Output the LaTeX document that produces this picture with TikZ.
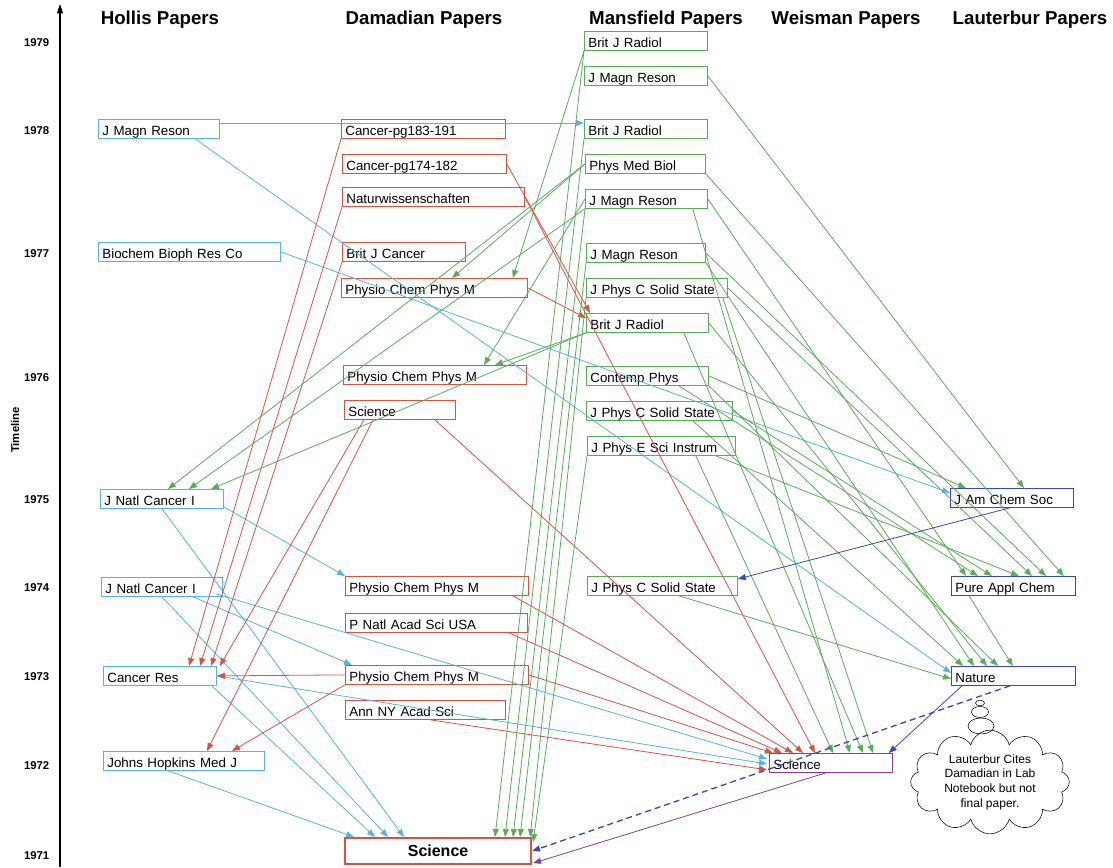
\documentclass[tikz,border=0pt]{standalone}
\usepackage{fontspec}
\setmainfont{Liberation Sans}
\usetikzlibrary{arrows.meta,calc,shapes.symbols}

\definecolor{hollisC}{RGB}{86,180,222}
\definecolor{damC}{RGB}{212,84,70}
\definecolor{mansC}{RGB}{90,172,90}
\definecolor{lautC}{RGB}{60,72,180}
\definecolor{weisC}{RGB}{138,62,148}

\begin{document}
\begin{tikzpicture}
  [x=0.75pt,y=-0.75pt,
   paperN/.style={draw,anchor=north west,inner xsep=3pt,inner ysep=1pt,
     minimum height=14.25pt,text height=10.2pt,text depth=0.8pt,align=left,
     font=\fontsize{10}{12}\selectfont,line width=0.6pt},
   hollisN/.style={paperN,draw=hollisC,text width=#1},
   damN/.style={paperN,draw=damC,text width=#1},
   mansN/.style={paperN,draw=mansC,text width=#1},
   weisN/.style={paperN,draw=weisC,text width=#1},
   lautN/.style={paperN,draw=lautC,text width=#1},
   citeTip/.style={-{Triangle[length=6pt,width=4.5pt]}},
   hollisE/.style={citeTip,hollisC,line width=0.6pt},
   damE/.style={citeTip,damC,line width=0.6pt},
   mansE/.style={citeTip,mansC,line width=0.6pt},
   lautE/.style={citeTip,lautC,line width=0.6pt},
   weisE/.style={citeTip,weisC,line width=0.6pt},
   yearL/.style={anchor=east,font=\bfseries\fontsize{8.5}{10}\selectfont},
   headL/.style={font=\bfseries\fontsize{14}{16}\selectfont}]

  \useasboundingbox (0,0) rectangle (1113,867);

  % timeline
  \coordinate (axisBot) at (60,867);
  \coordinate (axisTop) at (60,4);
  \draw[line width=0.8pt,-{Triangle[length=7pt,width=4.5pt]}] (axisBot) -- (axisTop);
  \node[rotate=90,font=\bfseries\fontsize{8.5}{10}\selectfont] (tl) at (15,430) {Timeline};
  \foreach \yr/\ypos in {1979/43,1978/131,1977/254,1976/378,1975/500,1974/588,1973/677,1972/766,1971/856}
    \node[yearL] (y\yr) at (54,\ypos) {\yr};

  % column heads
  \node[headL] (hHollis) at (160,20)  {Hollis Papers};
  \node[headL] (hDam)    at (424,20)  {Damadian Papers};
  \node[headL] (hMans)   at (666,20)  {Mansfield Papers};
  \node[headL] (hWeis)   at (846,20)  {Weisman Papers};
  \node[headL] (hLaut)   at (1030,20) {Lauterbur Papers};

  % Hollis
  \node[hollisN=84.75pt] (H1) at (98,119)  {J Magn Reson};
  \node[hollisN=130.5pt] (H2) at (98,242)  {Biochem Bioph Res Co};
  \node[hollisN=86.25pt] (H3) at (100,489) {J Natl Cancer I};
  \node[hollisN=84.75pt] (H4) at (101,577) {J Natl Cancer I};
  \node[hollisN=78.75pt] (H5) at (103,666) {Cancer Res};
  \node[hollisN=114.75pt](H6) at (103,751) {Johns Hopkins Med J};

  % Damadian
  \node[damN=117pt]    (D1)  at (341,119) {Cancer-pg183-191};
  \node[damN=117pt]    (D2)  at (342,154) {Cancer-pg174-182};
  \node[damN=130.5pt]  (D3)  at (342,187) {Naturwissenschaften};
  \node[damN=86.25pt]  (D4)  at (342,242) {Brit J Cancer};
  \node[damN=133.5pt]  (D5)  at (341,278) {Physio Chem Phys M};
  \node[damN=131.25pt] (D6)  at (343,365) {Physio Chem Phys M};
  \node[damN=77.25pt]  (D7)  at (344,400) {Science};
  \node[damN=131.25pt] (D8)  at (345,576) {Physio Chem Phys M};
  \node[damN=130.5pt]  (D9)  at (345,613) {P Natl Acad Sci USA};
  \node[damN=131.25pt] (D10) at (345,665) {Physio Chem Phys M};
  \node[damN=114pt]    (D11) at (345,700) {Ann NY Acad Sci};
  \node[draw=damC,line width=1.6pt,anchor=north west,minimum width=139.5pt,
        minimum height=19.5pt,font=\bfseries\fontsize{12}{14}\selectfont]
        (D0) at (344,837) {Science};

  % Mansfield
  \node[mansN=86.25pt] (M1)  at (584,31)  {Brit J Radiol};
  \node[mansN=86.25pt] (M2)  at (584,66)  {J Magn Reson};
  \node[mansN=86.25pt] (M3)  at (584,119) {Brit J Radiol};
  \node[mansN=84pt]    (M4)  at (585,154) {Phys Med Biol};
  \node[mansN=85.5pt]  (M5)  at (585,189) {J Magn Reson};
  \node[mansN=83.25pt] (M6)  at (586,243) {J Magn Reson};
  \node[mansN=99.75pt] (M7)  at (586,278) {J Phys C Solid State};
  \node[mansN=85.5pt]  (M8)  at (586,313) {Brit J Radiol};
  \node[mansN=85.5pt]  (M9)  at (586,366) {Contemp Phys};
  \node[mansN=103.5pt] (M10) at (586,401) {J Phys C Solid State};
  \node[mansN=105pt]   (M11) at (587,436) {J Phys E Sci Instrum};
  \node[mansN=106.5pt] (M12) at (587,576) {J Phys C Solid State};

  % Weisman
  \node[weisN=86.25pt] (W1) at (769,753) {Science};

  % Lauterbur
  \node[lautN=86.25pt] (L1) at (950,488) {J Am Chem Soc};
  \node[lautN=87pt]    (L2) at (951,576) {Pure Appl Chem};
  \node[lautN=87pt]    (L3) at (951,666) {Nature};

  % note
  \node[cloud,draw,cloud puffs=12,aspect=1.6,inner sep=0pt,minimum width=119pt,
        minimum height=75pt,align=center,font=\fontsize{9}{11}\selectfont]
        (note) at (990,782) {Lauterbur Cites\\Damadian in Lab\\Notebook but not\\final paper.};
  \draw (980,703) ellipse [x radius=4.5,y radius=2.8];
  \draw (980,712) ellipse [x radius=8.5,y radius=5.5];
  \draw (981,726) ellipse [x radius=13,y radius=8];

  % Hollis citations
  \draw[hollisE] ($(H1.north east)+(0,4)$) -- ($(M3.north west)+(0,4)$);
  \draw[hollisE] ($(H1.south west)+(97,0)$) -- ($(L3.north west)+(0,7)$);
  \draw[hollisE] (H2.east) -- ($(L1.north west)+(0,5)$);
  \draw[hollisE] ($(H3.south east)+(0,-2)$) -- (D8.north west);
  \draw[hollisE] ($(H3.south west)+(62,0)$) -- ($(D0.north west)+(60,0)$);
  \draw[hollisE] ($(H4.south west)+(92,0)$) -- ($(D10.north west)+(7,0)$);
  \draw[hollisE] ($(H4.south east)+(-7,-3)$) -- ($(W1.west)+(-2,-4)$);
  \draw[hollisE] ($(H4.south west)+(61,0)$) -- ($(D0.north west)+(44,0)$);
  \draw[hollisE] (H5.east) -- ($(W1.west)+(-2,1)$);
  \draw[hollisE] ($(H5.south east)+(-5,0)$) -- ($(D0.north west)+(31,0)$);
  \draw[hollisE] ($(H6.south west)+(65,0)$) -- ($(D0.north west)+(10,0)$);

  % Damadian citations
  \draw[damE] (D1.south west) -- ($(H5.north west)+(86,0)$);
  \draw[damE] (D3.south west) -- ($(H5.north west)+(97,0)$);
  \draw[damE] (D4.south west) -- ($(H5.north west)+(108,0)$);
  \draw[damE] ($(D7.south west)+(20,0)$) -- ($(H5.north east)+(3,0)$);
  \draw[damE] ($(D7.south west)+(29,0)$) -- ($(H6.north west)+(104,0)$);
  \draw[damE] (D10.west) -- (H5.east);
  \draw[damE] (D10.south west) -- ($(H6.north west)+(129,0)$);
  \draw[damE] (D2.east) -- ($(M8.north west)+(4,0)$);
  \draw[damE] (D5.east) -- ($(M8.north west)+(0,5)$);
  \draw[damE] (D3.east) -- ($(W1.north west)+(46,0)$);
  \draw[damE] ($(D7.south east)+(-21,0)$) -- ($(W1.north west)+(34,0)$);
  \draw[damE] ($(D8.south east)+(-16,0)$) -- ($(W1.north west)+(24,0)$);
  \draw[damE] ($(D9.south east)+(-19,0)$) -- ($(W1.north west)+(13,0)$);
  \draw[damE] (D10.east) -- ($(W1.north west)+(4,0)$);
  \draw[damE] ($(D11.south west)+(85,0)$) -- ($(W1.south west)+(-2,-3)$);

  % Mansfield citations
  \draw[mansE] (M1.south west) -- ($(D5.north east)+(-15,0)$);
  \draw[mansE] (M1.south west) -- ($(D0.north west)+(151,0)$);
  \draw[mansE] (M2.east) -- ($(L1.north west)+(74,0)$);
  \draw[mansE] (M3.south west) -- ($(D0.north west)+(161,0)$);
  \draw[mansE] (M4.west) -- ($(H3.north west)+(68,0)$);
  \draw[mansE] (M4.west) -- ($(D5.north west)+(111,0)$);
  \draw[mansE] (M4.south east) -- ($(L2.north east)+(-12,0)$);
  \draw[mansE] (M5.south west) -- ($(H3.north west)+(89,0)$);
  \draw[mansE] (M5.west) -- ($(D6.north west)+(141,0)$);
  \draw[mansE] (M5.south west) -- ($(D0.north west)+(169,0)$);
  \draw[mansE] ($(M5.south east)+(-15,0)$) -- ($(W1.north west)+(81,0)$);
  \draw[mansE] (M5.east) -- ($(L2.north west)+(15,0)$);
  \draw[mansE] (M6.south west) -- ($(D0.north west)+(176,0)$);
  \draw[mansE] (M6.east) -- ($(L2.north west)+(95,0)$);
  \draw[mansE] (M6.south east) -- ($(L3.north west)+(23,0)$);
  \draw[mansE] (M7.south west) -- ($(D0.north east)+(-2,0)$);
  \draw[mansE] (M7.east) -- ($(L2.north west)+(81,0)$);
  \draw[mansE] ($(M7.south east)+(-5,0)$) -- ($(W1.north west)+(104,0)$);
  \draw[mansE] (M8.south west) -- ($(H3.north west)+(111,0)$);
  \draw[mansE] (M8.south west) -- ($(D6.north west)+(152,0)$);
  \draw[mansE] ($(M8.south east)+(-25,0)$) -- ($(W1.north west)+(94,0)$);
  \draw[mansE] (M8.east) -- ($(L3.north west)+(36,0)$);
  \draw[mansE] (M9.east) -- ($(L1.north west)+(16,0)$);
  \draw[mansE] ($(M9.south east)+(-30,0)$) -- ($(L2.north west)+(27,0)$);
  \draw[mansE] (M9.south east) -- ($(L3.north west)+(47,0)$);
  \draw[mansE] (M10.east) -- ($(L2.north west)+(41,0)$);
  \draw[mansE] ($(M10.south east)+(-40,0)$) -- ($(L3.north west)+(12,0)$);
  \draw[mansE] (M11.south west) -- ($(D0.north east)+(1,5)$);
  \draw[mansE] ($(M11.south east)+(-20,0)$) -- ($(L2.north west)+(68,0)$);
  \draw[mansE] ($(M11.south east)+(-40,0)$) -- ($(W1.north west)+(64,0)$);
  \draw[mansE] ($(M12.south west)+(92,0)$) -- ($(L3.west)+(0,3)$);
  \draw[mansE] ($(L2.south west)+(18,0)$) -- ($(L3.north east)+(-63,0)$);

  % Lauterbur and Weisman citations
  \draw[lautE] ($(L1.south west)+(60,0)$) -- ($(M12.north east)+(0,3)$);
  \draw[lautE] ($(L3.south west)+(11,0)$) -- ($(W1.north east)+(-4,0)$);
  \draw[lautE,line width=1pt,dash pattern=on 4.5pt off 3pt] ($(L3.south west)+(59,0)$) -- (D0.east);
  \draw[weisE] ($(W1.south west)+(57,0)$) -- ($(D0.south east)+(1,-2)$);

\end{tikzpicture}
\end{document}
